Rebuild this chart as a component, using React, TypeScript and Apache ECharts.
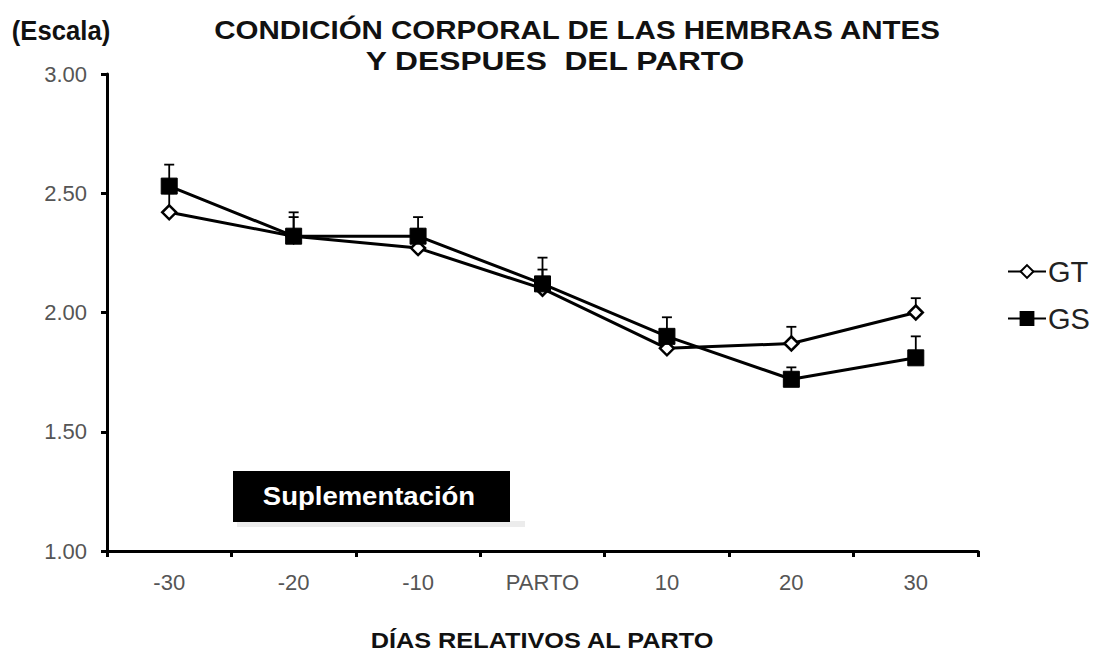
import React, { useEffect, useRef } from "react";
import * as echarts from "echarts";

const categories = ["-30", "-20", "-10", "PARTO", "10", "20", "30"];
const gtValues = [2.42, 2.32, 2.27, 2.1, 1.85, 1.87, 2.0];
const gsValues = [2.53, 2.32, 2.32, 2.12, 1.9, 1.72, 1.81];
const gtUpper = [2.5, 2.4, 2.35, 2.18, 1.92, 1.94, 2.06];
const gsUpper = [2.62, 2.42, 2.4, 2.23, 1.98, 1.77, 1.9];

function errData(vals: number[], up: number[]) {
  return vals.map((v, i) => [i, v, up[i]]);
}

const errRender = (params: any, api: any) => {
  const x = api.value(0);
  const low = api.coord([x, api.value(1)]);
  const high = api.coord([x, api.value(2)]);
  const half = 5;
  const style = { stroke: "#000", lineWidth: 1.8 };
  return {
    type: "group",
    children: [
      { type: "line", shape: { x1: low[0], y1: low[1], x2: high[0], y2: high[1] }, style },
      { type: "line", shape: { x1: high[0] - half, y1: high[1], x2: high[0] + half, y2: high[1] }, style },
    ],
  };
};

function stretchedText(text: string, x: number, y: number, font: string, sx: number, fill = "#111") {
  return {
    type: "text",
    x,
    y,
    scaleX: sx,
    style: { text, font, fill, textAlign: "center", textVerticalAlign: "middle", align: "center", verticalAlign: "middle" },
  };
}

export default function App() {
  const ref = useRef<HTMLDivElement>(null);
  useEffect(() => {
    const chart = echarts.init(ref.current!, null, { renderer: "svg" });
    chart.setOption({
      animation: false,
      backgroundColor: "#fff",
      textStyle: { fontFamily: "Liberation Sans, Arial, sans-serif" },
      legend: {
        orient: "vertical",
        left: 1002,
        top: 252,
        itemGap: 18,
        itemWidth: 38,
        itemHeight: 16,
        textStyle: { fontSize: 29, color: "#222", padding: [0, 0, 0, -3] },
        data: ["GT", "GS"],
      },
      grid: { left: 107, right: 123, top: 74, bottom: 107 },
      xAxis: {
        type: "category",
        data: categories,
        boundaryGap: true,
        axisLine: { lineStyle: { color: "#000", width: 3 } },
        axisTick: { show: true, length: 6, lineStyle: { color: "#000", width: 3 } },
        axisLabel: { color: "#555", fontSize: 22, margin: 20 },
      },
      yAxis: {
        type: "value",
        min: 1,
        max: 3,
        interval: 0.5,
        splitLine: { show: false },
        axisLine: { show: true, lineStyle: { color: "#000", width: 3 } },
        axisTick: { show: true, length: 6, lineStyle: { color: "#000", width: 3 } },
        axisLabel: { color: "#555", fontSize: 22, margin: 20, formatter: (v: number) => v.toFixed(2) },
      },
      graphic: [
        stretchedText("CONDICIÓN CORPORAL DE LAS HEMBRAS ANTES", 577, 30, "bold 25px 'Liberation Sans', Arial", 1.18),
        stretchedText("Y DESPUES  DEL PARTO", 555, 61, "bold 25px 'Liberation Sans', Arial", 1.27),
        stretchedText("(Escala)", 61, 31, "bold 27px 'Liberation Sans', Arial", 0.95),
        stretchedText("DÍAS RELATIVOS AL PARTO", 542, 641, "bold 22px 'Liberation Sans', Arial", 1.15),
        {
          type: "rect",
          x: 237,
          y: 521,
          shape: { width: 288, height: 6 },
          style: { fill: "#ececec" },
        },
        {
          type: "rect",
          x: 233,
          y: 471,
          shape: { width: 277, height: 51 },
          style: { fill: "#000" },
        },
        stretchedText("Suplementación", 369, 496, "bold 25px 'Liberation Sans', Arial", 1.1, "#fff"),
      ],
      series: [
        {
          name: "GTerr",
          type: "custom",
          renderItem: errRender,
          data: errData(gtValues, gtUpper),
          z: 1,
          silent: true,
        },
        {
          name: "GT",
          type: "line",
          data: gtValues,
          symbol: "diamond",
          symbolSize: 14,
          lineStyle: { color: "#000", width: 3 },
          itemStyle: { color: "#fff", borderColor: "#000", borderWidth: 2.5 },
          z: 2,
        },
        {
          name: "GSerr",
          type: "custom",
          renderItem: errRender,
          data: errData(gsValues, gsUpper),
          z: 3,
          silent: true,
        },
        {
          name: "GS",
          type: "line",
          data: gsValues,
          symbol: "rect",
          symbolSize: 16,
          lineStyle: { color: "#000", width: 3 },
          itemStyle: { color: "#000", borderColor: "#000", borderWidth: 1 },
          z: 4,
        },
      ],
    });
    return () => chart.dispose();
  }, []);
  return <div ref={ref} style={{ width: 1101, height: 658, position: "absolute", left: 0, top: 0 }} />;
}
